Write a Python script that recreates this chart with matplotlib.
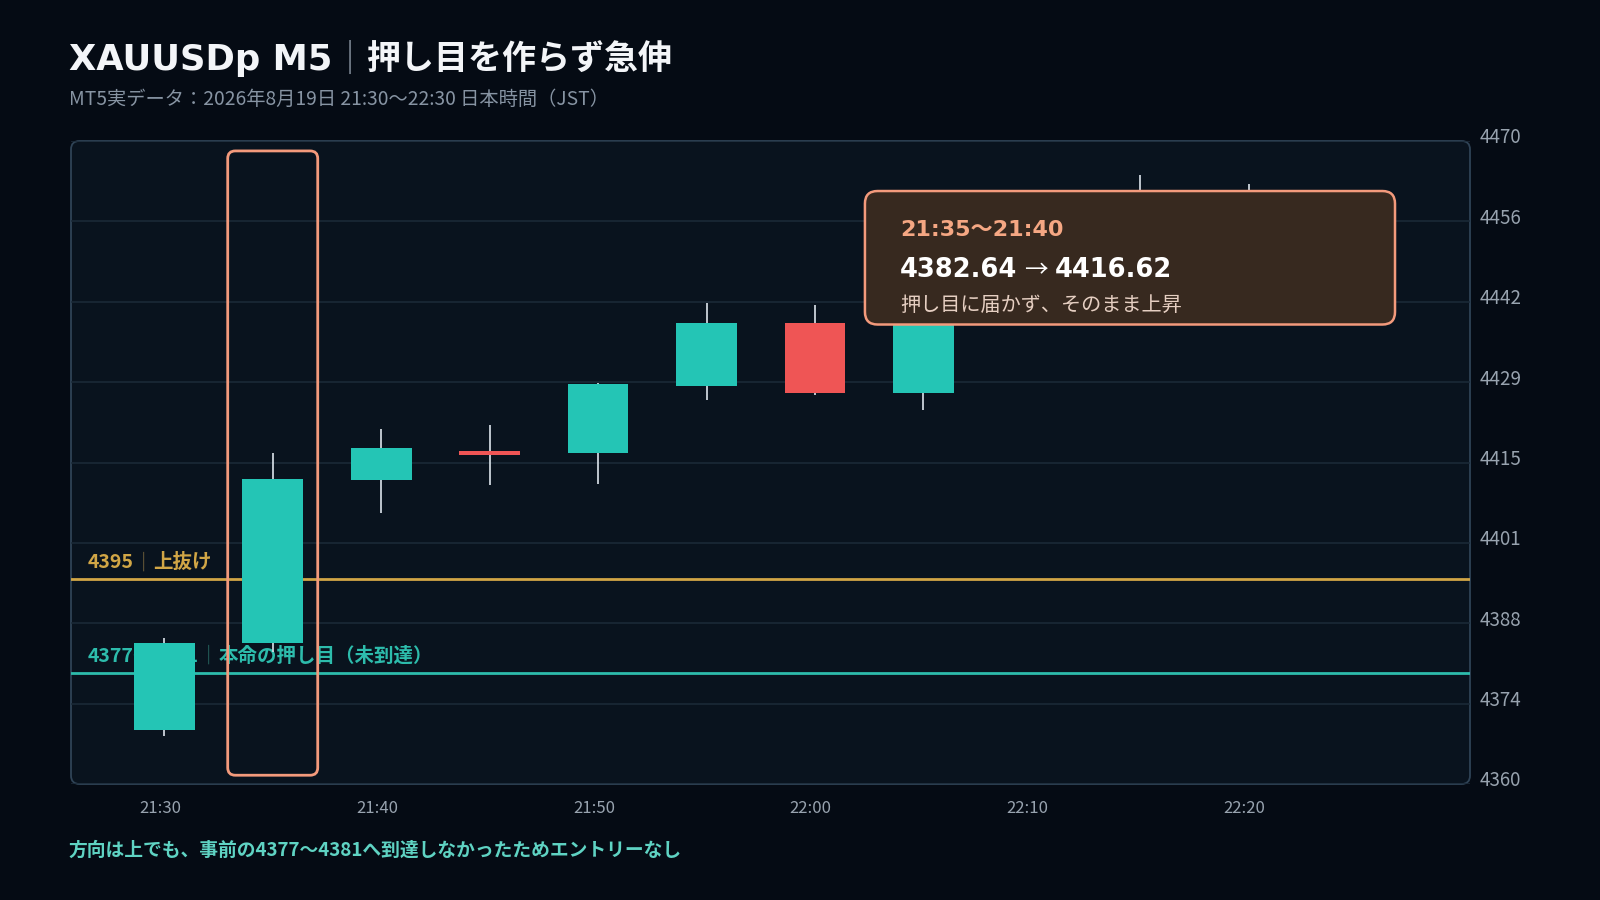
import numpy as np
import matplotlib
matplotlib.use("Agg")
import matplotlib.pyplot as plt
from matplotlib.patches import FancyBboxPatch
import matplotlib.transforms as mtransforms

CJK = ['Noto Sans CJK JP', 'DejaVu Sans']
WIDE = ['DejaVu Sans', 'Noto Sans CJK JP']
plt.rcParams['font.family'] = CJK

# ---- data (XAUUSDp M5, 21:30 - 22:25 JST) ----
times  = ['21:30', '21:35', '21:40', '21:45', '21:50', '21:55',
          '22:00', '22:05', '22:10', '22:15', '22:20', '22:25']
opens  = [4369.3, 4384.08, 4412.05, 4416.9, 4416.7, 4428.1,
          4438.8, 4426.9, 4441.5, 4450.0, 4458.0, 4452.0]
highs  = [4384.9, 4416.62, 4420.68, 4421.4, 4428.6, 4442.3,
          4442.0, 4446.0, 4452.0, 4464.2, 4462.7, 4458.0]
lows   = [4368.2, 4382.64, 4406.3, 4411.2, 4411.3, 4425.7,
          4426.5, 4423.9, 4440.0, 4447.0, 4449.0, 4446.0]
closes = [4384.08, 4412.16, 4417.44, 4416.3, 4428.4, 4438.9,
          4426.9, 4441.5, 4450.0, 4458.0, 4452.0, 4455.0]

y_min, y_max = 4360, 4470
breakout = 4395
pullback_lo, pullback_hi = 4377, 4381
focus = 1  # 21:35 candle
move_from, move_to = 4382.64, 4416.62

# ---- colours ----
BG = '#050b14'
PANEL = '#09131e'
GRID = '#1c2b39'
BORDER = '#2f4356'
UP = '#24c5b5'
DOWN = '#ef5555'
WICK = '#dde4ec'
GOLD = '#d1a646'
TEAL = '#2dbcac'
SALMON = '#f39a7c'
TICK = '#98a3af'

fig = plt.figure(figsize=(16, 9), dpi=100, facecolor=BG)
renderer = fig.canvas.get_renderer()
ax = fig.add_axes([71 / 1600, 1 - 784 / 900, 1399 / 1600, 643 / 900])
ax.set_facecolor('none')
for s in ax.spines.values():
    s.set_visible(False)

aw, ah = 1399, 643
panel = FancyBboxPatch((0, 0), 1, 1, boxstyle='round,pad=0,rounding_size=0.006',
                       mutation_aspect=aw / ah, transform=ax.transAxes,
                       facecolor=PANEL, edgecolor=BORDER, lw=1.3, zorder=0,
                       clip_on=False)
ax.add_patch(panel)

x = np.arange(len(times))
x_lo, x_hi = -0.86, 12.04
ax.set_xlim(x_lo, x_hi)
ax.set_ylim(y_min, y_max)

yt = np.linspace(y_min, y_max, 9)
ax.set_yticks(yt)
ax.set_yticklabels([str(int(round(v))) for v in yt])
ax.yaxis.tick_right()
ax.set_xticks(x[::2])
ax.set_xticklabels(times[::2])
ax.tick_params(axis='both', length=0, colors=TICK)
ax.tick_params(axis='x', pad=11.5, labelsize=12)
ax.tick_params(axis='y', pad=7, labelsize=13.5)
up = mtransforms.ScaledTranslation(0, 4 / 72, fig.dpi_scale_trans)
for lab in ax.get_yticklabels():
    lab.set_transform(lab.get_transform() + up)
left = mtransforms.ScaledTranslation(-3 / 72, 0, fig.dpi_scale_trans)
for lab in ax.get_xticklabels():
    lab.set_transform(lab.get_transform() + left)
ax.grid(axis='y', color=GRID, lw=1.1)
ax.set_axisbelow(True)

# level lines
ax.axhline(breakout, color=GOLD, lw=2.0, zorder=1)
ax.axhline((pullback_lo + pullback_hi) / 2, color=TEAL, lw=2.0, zorder=1)


def seg_line(axis, xx, yy, parts, transform, size, dy=0, zorder=3):
    # pieces of text in different styles, laid side by side on one baseline
    base = mtransforms.offset_copy(transform, fig=fig, x=0, y=dy, units='points')
    dx = 0.0
    for s, c, w, fam, fs in parts:
        tr = mtransforms.offset_copy(base, fig=fig, x=dx, y=0, units='dots')
        t = axis.text(xx, yy, s, transform=tr, color=c, fontsize=fs or size, fontweight=w,
                      family=fam, ha='left', va='baseline', zorder=zorder, clip_on=False)
        dx += t.get_window_extent(renderer).width


blend = mtransforms.blended_transform_factory(ax.transAxes, ax.transData)
seg_line(ax, 0.012, breakout, [(str(breakout), GOLD, 'bold', CJK, None),
                               ('｜', '#7d6a3f', 'normal', CJK, None),
                               ('上抜け', GOLD, 'bold', CJK, None)], blend, 14, dy=8,
         zorder=1.5)
seg_line(ax, 0.012, (pullback_lo + pullback_hi) / 2,
         [(f'{pullback_lo}〜{pullback_hi}', TEAL, 'bold', CJK, None),
          ('｜', '#2a6f68', 'normal', CJK, None),
          ('本命の押し目（未到達）', TEAL, 'bold', CJK, None)], blend, 14, dy=8,
         zorder=1.5)

# candles
o = np.array(opens); c = np.array(closes)
cols = [UP if cc >= oo else DOWN for oo, cc in zip(o, c)]
ax.vlines(x, lows, highs, color=WICK, lw=1.2, zorder=2)
body = np.maximum(np.abs(c - o), 0.5)
ax.bar(x, body, bottom=np.minimum(o, c), width=0.56, color=cols, zorder=3)

# highlight box round the focus candle
px_x = aw / (x_hi - x_lo)
px_y = ah / (y_max - y_min)
hl = FancyBboxPatch((focus - 0.415, y_min + 1.5), 0.83, (y_max - y_min) - 3.2,
                    boxstyle='round,pad=0,rounding_size=0.07', mutation_aspect=px_x / px_y,
                    facecolor='none', edgecolor=SALMON, lw=2.0, zorder=4)
ax.add_patch(hl)

# annotation box
note = FancyBboxPatch((0.5675, 0.7146), 0.3789, 0.2076,
                      boxstyle='round,pad=0,rounding_size=0.009', mutation_aspect=aw / ah,
                      transform=ax.transAxes, facecolor='#37291f', edgecolor=SALMON,
                      lw=1.8, zorder=5, clip_on=False)
ax.add_patch(note)
ax.text(0.5926, 0.862, f'{times[focus]}〜{times[focus + 1]}', transform=ax.transAxes,
        color='#f5a783', fontsize=16, fontweight='bold', va='center', ha='left', zorder=6,
        family=WIDE)
seg_line(ax, 0.5926, 0.7885, [(f'{move_from:.2f}', '#ffffff', 'bold', WIDE, None),
                              (' ', '#ffffff', 'normal', WIDE, 16),
                              ('→', '#ffffff', 'normal', CJK, 17),
                              (' ', '#ffffff', 'normal', WIDE, 16),
                              (f'{move_to:.2f}', '#ffffff', 'bold', WIDE, None)],
         ax.transAxes, 18.5, zorder=6)
ax.text(0.5926, 0.745, '押し目に届かず、そのまま上昇', transform=ax.transAxes,
        color='#e6cfc2', fontsize=14.5, va='center', ha='left', zorder=6)

# header / footer
ov = fig.add_axes([0, 0, 1, 1])
ov.axis('off')
ov.set_xlim(0, 1); ov.set_ylim(0, 1)
seg_line(ov, 0.043, 0.9218, [('XAUUSDp M5', '#f3f5f8', 'bold', WIDE, 25.5),
                             ('｜', '#8b96a3', 'normal', CJK, None),
                             ('押し目を作らず急伸', '#f3f5f8', 'bold', CJK, None)],
         ov.transData, 24.5)
ov.text(0.043, 0.8895, 'MT5実データ：2026年8月19日 21:30〜22:30 日本時間（JST）',
        color='#8794a3', fontsize=13.85, va='center', ha='left')
ov.text(0.043, 0.0556, f'方向は上でも、事前の{pullback_lo}〜{pullback_hi}へ到達しなかったためエントリーなし',
        color='#5fd3c3', fontsize=13.5, fontweight='bold', va='center', ha='left')

fig.savefig('out.png', dpi=100, facecolor=BG)
